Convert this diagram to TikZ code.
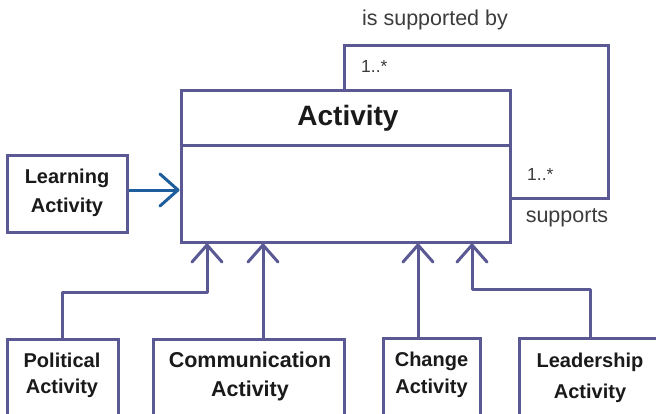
\documentclass[tikz,border=0pt]{standalone}
\usepackage{fontspec}
\setmainfont{Liberation Sans}
\usetikzlibrary{arrows.meta}
\definecolor{umlline}{HTML}{5B5994}
\definecolor{umlblue}{HTML}{1F5E9C}
\definecolor{umltext}{HTML}{1A1A1A}
\begin{document}
\begin{tikzpicture}[x=1pt,y=-1pt,
  box/.style={draw=umlline,line width=3pt,fill=white,inner sep=0pt},
  boldlbl/.style={font=\fontsize{20}{24}\selectfont\bfseries,text=umltext,inner sep=0pt,anchor=base},
  plainlbl/.style={font=\fontsize{21.5}{25}\selectfont,text=umltext!85,inner sep=0pt,anchor=base},
  multlbl/.style={font=\fontsize{17.5}{21}\selectfont,text=umltext!85,inner sep=0pt,anchor=base west},
  gen/.style={draw=umlline,line width=3pt,line join=round,
    -{Straight Barb[length=17pt,width=30pt,line cap=round,line join=round]}},
  assoc/.style={draw=umlblue,line width=3pt,
    -{Straight Barb[length=18pt,width=32pt,line cap=round,line join=round]}},
  loopline/.style={draw=umlline,line width=3pt,line join=miter}
]
\clip (0,0) rectangle (656,413);
\fill[white] (0,0) rectangle (656,413);

% main class
\node[box,minimum width=329pt,minimum height=152pt] (act) at (345.5,166) {};
\draw[draw=umlline,line width=3pt] ([yshift=-57pt]act.north west) coordinate (dl) -- (dl -| act.east);
\node[font=\fontsize{28}{32}\selectfont\bfseries,text=umltext,inner sep=0pt,anchor=base] (acttitle) at (348,125) {Activity};

% self association
\coordinate (lpa) at (344,45);
\coordinate (lpb) at (608,45);
\coordinate (lpc) at (608,198);
\draw[loopline] (lpa |- act.north) -- (lpa) -- (lpb) -- (lpc) -- (lpc -| act.east);
\node[plainlbl] (isby) at (435,25) {is supported by};
\node[multlbl] (m1) at (361,72) {1..*};
\node[multlbl] (m2) at (527,180) {1..*};
\node[plainlbl] (sup) at (567,222) {supports};

% learning activity
\node[box,minimum width=120pt,minimum height=77pt] (learn) at (67,193.5) {};
\node[boldlbl] (learn1) at (67,183) {Learning};
\node[boldlbl] (learn2) at (67,212) {Activity};
\coordinate (la) at (0,190);
\draw[assoc] (la -| learn.east) -- (la -| act.west);

% subclasses
\node[box,minimum width=111pt,minimum height=90pt,anchor=north] (pol) at (62.5,338) {};
\node[boldlbl] (pol1) at (62,367) {Political};
\node[boldlbl] (pol2) at (62,393) {Activity};

\node[box,minimum width=191pt,minimum height=90pt,anchor=north] (com) at (248.5,338) {};
\node[boldlbl,font=\fontsize{21.5}{25}\selectfont\bfseries] (com1) at (250,367) {Communication};
\node[boldlbl,font=\fontsize{21.5}{25}\selectfont\bfseries] (com2) at (250,396) {Activity};

\node[box,minimum width=97pt,minimum height=90pt,anchor=north] (cha) at (431.5,337) {};
\node[boldlbl] (cha1) at (431.5,366) {Change};
\node[boldlbl] (cha2) at (431.5,393) {Activity};

\node[box,minimum width=142pt,minimum height=90pt,anchor=north] (lead) at (590,337) {};
\node[boldlbl] (lead1) at (590,367) {Leadership};
\node[boldlbl] (lead2) at (590,398) {Activity};

% generalisations
\coordinate (pa) at (207,292);
\draw[gen] (pol.north) |- (pa) -- (pa |- act.south);
\coordinate (ca) at (263,0);
\draw[gen] (ca |- com.north) -- (ca |- act.south);
\coordinate (cha0) at (418,0);
\draw[gen] (cha0 |- cha.north) -- (cha0 |- act.south);
\coordinate (lda) at (472,289);
\draw[gen] (lead.north) |- (lda) -- (lda |- act.south);
\end{tikzpicture}
\end{document}
